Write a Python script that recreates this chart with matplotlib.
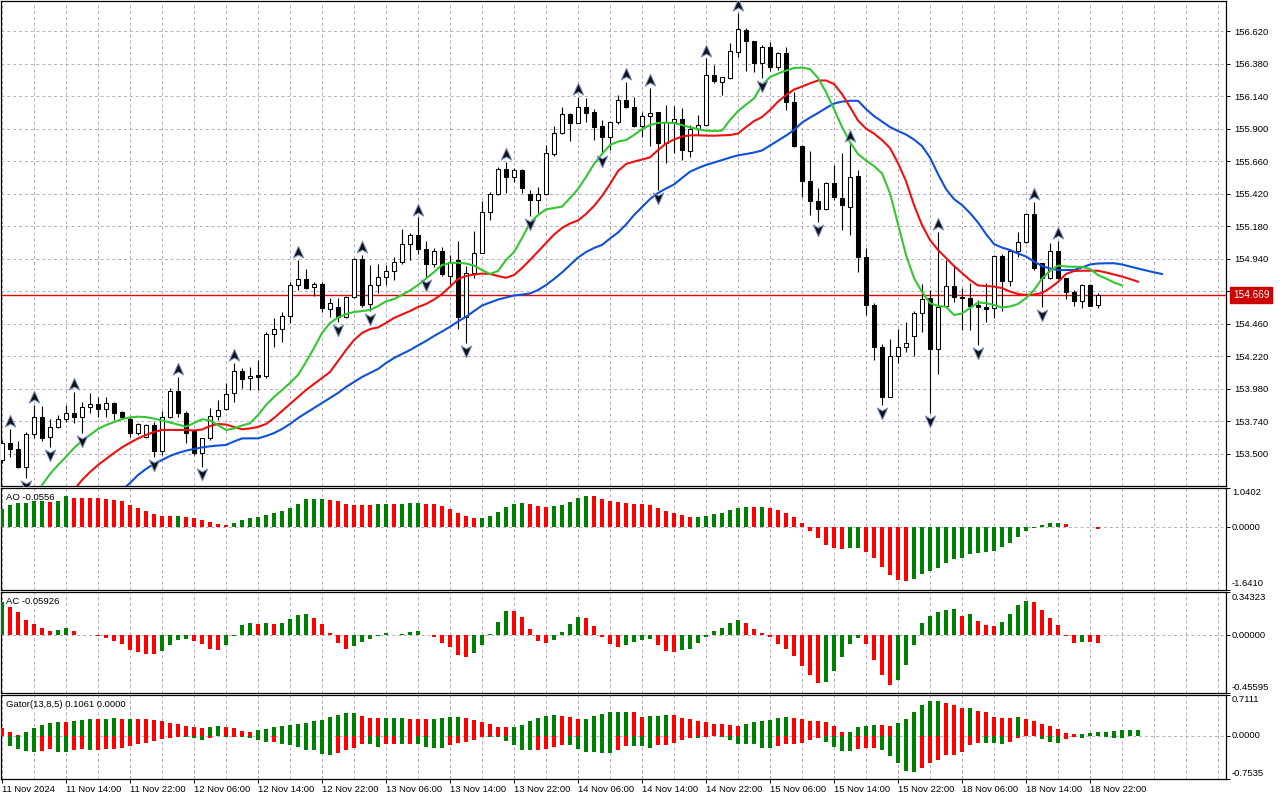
import numpy as np
import matplotlib
matplotlib.use("Agg")
import matplotlib.pyplot as plt
from matplotlib.path import Path
from matplotlib.ticker import FixedLocator, FormatStrFormatter

plt.rcParams['font.family'] = ['Liberation Sans', 'DejaVu Sans']

# ---------------------------------------------------------------- data
time_labels = ["11 Nov 2024", "11 Nov 14:00", "11 Nov 22:00", "12 Nov 06:00", "12 Nov 14:00",
               "12 Nov 22:00", "13 Nov 06:00", "13 Nov 14:00", "13 Nov 22:00", "14 Nov 06:00",
               "14 Nov 14:00", "14 Nov 22:00", "15 Nov 06:00", "15 Nov 14:00", "15 Nov 22:00",
               "18 Nov 06:00", "18 Nov 14:00", "18 Nov 22:00"]
label_bars = [0, 8, 16, 24, 32, 40, 48, 56, 64, 72, 80, 88, 96, 104, 112, 120, 128, 136]

opens = [153.452, 153.575, 153.531, 153.398, 153.642, 153.767, 153.620, 153.694, 153.757, 153.797,
         153.772, 153.846, 153.866, 153.827, 153.875, 153.807, 153.753, 153.649, 153.620, 153.708,
         153.521, 153.767, 153.959, 153.801, 153.669, 153.501, 153.612, 153.779, 153.827, 153.945,
         154.112, 154.055, 154.080, 154.072, 154.383, 154.419, 154.518, 154.742, 154.786, 154.727,
         154.749, 154.565, 154.584, 154.506, 154.658, 154.936, 154.604, 154.742, 154.803, 154.848,
         154.912, 155.045, 155.111, 155.008, 154.897, 154.995, 154.813, 154.929, 154.510, 154.835,
         154.983, 155.281, 155.414, 155.601, 155.544, 155.594, 155.416, 155.372, 155.416, 155.712,
         155.865, 156.005, 155.943, 156.057, 156.020, 155.919, 155.835, 155.946, 156.110, 156.057,
         155.921, 155.990, 156.020, 155.795, 155.950, 155.968, 155.736, 155.894, 155.924, 156.293,
         156.246, 156.271, 156.467, 156.627, 156.548, 156.386, 156.500, 156.356, 156.455, 156.098,
         155.773, 155.515, 155.367, 155.303, 155.495, 155.385, 155.323, 155.552, 154.949, 154.597,
         154.284, 153.920, 154.220, 154.289, 154.368, 154.535, 154.650, 154.269, 154.589, 154.737,
         154.658, 154.651, 154.594, 154.584, 154.572, 154.958, 154.776, 154.998, 155.060, 155.269,
         154.905, 154.798, 154.995, 154.794, 154.695, 154.628, 154.742, 154.597]
highs = [153.600, 153.680, 153.595, 153.659, 153.858, 153.850, 153.753, 153.784, 153.858, 153.956,
         153.883, 153.945, 153.920, 153.920, 153.878, 153.816, 153.772, 153.727, 153.718, 153.735,
         153.816, 153.982, 154.067, 153.816, 153.679, 153.612, 153.834, 153.895, 154.018, 154.166,
         154.129, 154.141, 154.190, 154.400, 154.498, 154.547, 154.769, 154.929, 154.860, 154.769,
         154.769, 154.646, 154.646, 154.665, 154.942, 154.966, 154.892, 154.897, 154.892, 154.953,
         155.160, 155.126, 155.244, 155.069, 155.015, 155.027, 154.966, 155.069, 154.885, 155.143,
         155.367, 155.433, 155.618, 155.653, 155.606, 155.600, 155.446, 155.470, 155.778, 155.919,
         156.057, 156.012, 156.135, 156.125, 156.042, 155.963, 155.958, 156.147, 156.246, 156.135,
         156.024, 156.201, 156.024, 156.074, 156.066, 156.049, 155.926, 156.000, 156.418, 156.369,
         156.278, 156.534, 156.751, 156.640, 156.550, 156.517, 156.541, 156.467, 156.504, 156.172,
         155.775, 155.736, 155.458, 155.507, 155.631, 155.717, 155.786, 155.594, 155.015, 154.609,
         154.309, 154.343, 154.417, 154.473, 154.555, 154.752, 154.707, 155.138, 154.929, 154.887,
         154.720, 154.757, 154.634, 154.757, 154.966, 154.973, 155.003, 155.134, 155.274, 155.360,
         154.908, 155.052, 155.069, 154.796, 154.707, 154.749, 154.749, 154.683]
lows = [153.430, 153.472, 153.390, 153.317, 153.612, 153.595, 153.550, 153.686, 153.735, 153.723,
        153.649, 153.801, 153.772, 153.767, 153.747, 153.753, 153.624, 153.637, 153.612, 153.472,
        153.489, 153.760, 153.767, 153.575, 153.489, 153.403, 153.600, 153.747, 153.821, 153.883,
        153.982, 153.969, 153.969, 154.055, 154.289, 154.326, 154.461, 154.707, 154.713, 154.665,
        154.547, 154.510, 154.473, 154.498, 154.646, 154.584, 154.552, 154.683, 154.744, 154.781,
        154.899, 154.929, 154.973, 154.800, 154.879, 154.810, 154.744, 154.417, 154.314, 154.794,
        154.978, 155.224, 155.409, 155.424, 155.507, 155.426, 155.254, 155.274, 155.409, 155.697,
        155.859, 155.810, 155.938, 155.950, 155.815, 155.717, 155.741, 155.933, 156.049, 155.913,
        155.835, 155.773, 155.446, 155.648, 155.717, 155.667, 155.692, 155.852, 155.919, 156.234,
        156.147, 156.266, 156.430, 156.327, 156.320, 156.271, 156.327, 156.332, 156.037, 155.761,
        155.392, 155.261, 155.212, 155.298, 155.372, 155.151, 155.114, 154.843, 154.523, 154.190,
        153.858, 153.915, 154.171, 154.252, 154.220, 154.399, 153.797, 154.087, 154.585, 154.621,
        154.412, 154.412, 154.301, 154.473, 154.498, 154.555, 154.737, 154.953, 155.052, 154.855,
        154.580, 154.789, 154.786, 154.639, 154.589, 154.572, 154.589, 154.572]
closes = [153.575, 153.531, 153.398, 153.642, 153.767, 153.612, 153.694, 153.757, 153.797, 153.772,
          153.846, 153.866, 153.827, 153.875, 153.801, 153.767, 153.649, 153.716, 153.708, 153.521,
          153.767, 153.964, 153.801, 153.649, 153.501, 153.612, 153.779, 153.821, 153.939, 154.109,
          154.050, 154.072, 154.067, 154.383, 154.419, 154.518, 154.742, 154.786, 154.724, 154.749,
          154.577, 154.614, 154.506, 154.658, 154.936, 154.597, 154.742, 154.803, 154.848, 154.912,
          155.045, 155.111, 155.008, 154.897, 154.995, 154.823, 154.917, 154.510, 154.835, 154.983,
          155.281, 155.414, 155.601, 155.544, 155.594, 155.458, 155.372, 155.416, 155.717, 155.865,
          156.005, 155.943, 156.057, 156.017, 155.913, 155.840, 155.946, 156.110, 156.057, 155.921,
          155.990, 156.017, 155.795, 155.950, 155.968, 155.741, 155.894, 155.924, 156.293, 156.253,
          156.278, 156.475, 156.633, 156.548, 156.386, 156.500, 156.356, 156.455, 156.098, 155.773,
          155.515, 155.367, 155.303, 155.495, 155.392, 155.335, 155.544, 154.949, 154.597, 154.284,
          153.920, 154.220, 154.289, 154.318, 154.535, 154.639, 154.269, 154.584, 154.737, 154.653,
          154.646, 154.592, 154.584, 154.567, 154.958, 154.776, 154.998, 155.064, 155.269, 154.868,
          154.798, 154.995, 154.794, 154.695, 154.628, 154.742, 154.589, 154.669]

# Alligator lines (already shifted forward), first bar index of each
lips_start = 5
lips = [153.267, 153.349, 153.415, 153.476, 153.541,
        153.593, 153.637, 153.681, 153.710, 153.732, 153.754, 153.767, 153.772, 153.769, 153.758,
        153.744, 153.729, 153.714, 153.698, 153.725, 153.753, 153.744, 153.710, 153.674, 153.685,
        153.707, 153.723, 153.784, 153.858, 153.917, 153.969, 154.021, 154.080, 154.176, 154.279,
        154.390, 154.464, 154.504, 154.530, 154.545, 154.552, 154.560, 154.589, 154.623, 154.641,
        154.671, 154.704, 154.744, 154.792, 154.840, 154.892, 154.907, 154.909, 154.903, 154.888,
        154.855, 154.826, 154.848, 154.929, 154.988, 155.091, 155.204, 155.261, 155.303, 155.313,
        155.323, 155.387, 155.453, 155.542, 155.638, 155.712, 155.778, 155.804, 155.815, 155.852,
        155.896, 155.926, 155.941, 155.943, 155.941, 155.926, 155.909, 155.896, 155.884, 155.882,
        155.885, 155.963, 156.029, 156.077, 156.123, 156.221, 156.280, 156.306, 156.328, 156.347,
        156.350, 156.339, 156.273, 156.170, 156.044, 155.911, 155.800, 155.712, 155.664, 155.623,
        155.569, 155.422, 155.195, 154.966, 154.796, 154.693, 154.611, 154.589, 154.584, 154.523,
        154.534, 154.574, 154.615, 154.611, 154.597, 154.578, 154.586, 154.604, 154.648, 154.707,
        154.792, 154.848, 154.888, 154.881, 154.879, 154.879, 154.863, 154.818, 154.792, 154.763,
        154.742]
teeth_start = 9
teeth = [153.231,
         153.304, 153.363, 153.415, 153.459, 153.504, 153.545, 153.580, 153.611, 153.637, 153.659,
         153.674, 153.674, 153.674, 153.674, 153.670, 153.677, 153.703, 153.718, 153.714, 153.696,
         153.679, 153.685, 153.696, 153.718, 153.762, 153.814, 153.866, 153.917, 153.969, 154.013,
         154.058, 154.102, 154.183, 154.264, 154.338, 154.390, 154.419, 154.431, 154.464, 154.501,
         154.527, 154.552, 154.582, 154.604, 154.637, 154.678, 154.732, 154.789, 154.811, 154.822,
         154.829, 154.826, 154.811, 154.798, 154.818, 154.870, 154.929, 154.992, 155.055, 155.117,
         155.165, 155.199, 155.221, 155.269, 155.328, 155.402, 155.490, 155.586, 155.638, 155.656,
         155.671, 155.687, 155.741, 155.789, 155.819, 155.841, 155.850, 155.850, 155.848, 155.847,
         155.850, 155.852, 155.863, 155.911, 155.955, 155.985, 156.037, 156.099, 156.147, 156.188,
         156.210, 156.234, 156.255, 156.255, 156.229, 156.155, 156.059, 155.959, 155.900, 155.863,
         155.815, 155.756, 155.645, 155.512, 155.335, 155.187, 155.077, 155.003, 154.944, 154.885,
         154.833, 154.781, 154.741, 154.737, 154.733, 154.722, 154.696, 154.678, 154.671, 154.674,
         154.685, 154.722, 154.767, 154.826, 154.848, 154.850, 154.850, 154.850, 154.837, 154.822,
         154.807, 154.789, 154.769]
jaw_start = 15
jaw = [153.231, 153.282, 153.341, 153.386, 153.423,
       153.452, 153.482, 153.504, 153.521, 153.533, 153.545, 153.553, 153.559, 153.563, 153.589,
       153.611, 153.612, 153.612, 153.629, 153.651, 153.681, 153.718, 153.762, 153.799, 153.836,
       153.873, 153.910, 153.947, 153.991, 154.028, 154.065, 154.095, 154.124, 154.168, 154.205,
       154.235, 154.264, 154.298, 154.331, 154.368, 154.401, 154.436, 154.475, 154.510, 154.552,
       154.593, 154.615, 154.637, 154.652, 154.667, 154.674, 154.682, 154.707, 154.744, 154.789,
       154.837, 154.892, 154.947, 154.988, 155.018, 155.040, 155.088, 155.132, 155.191, 155.261,
       155.320, 155.379, 155.424, 155.457, 155.487, 155.535, 155.581, 155.608, 155.631, 155.649,
       155.667, 155.686, 155.702, 155.712, 155.723, 155.738, 155.775, 155.811, 155.848, 155.889,
       155.944, 155.981, 156.015, 156.051, 156.085, 156.099, 156.105, 156.105, 156.044, 155.992,
       155.952, 155.911, 155.882, 155.856, 155.819, 155.771, 155.686, 155.564, 155.453, 155.379,
       155.335, 155.276, 155.206, 155.121, 155.047, 155.021, 155.003, 154.977, 154.955, 154.918,
       154.885, 154.866, 154.855, 154.855, 154.855, 154.874, 154.896, 154.903, 154.905, 154.905,
       154.896, 154.881, 154.866, 154.852, 154.838, 154.826]

up_fractals = [1, 4, 9, 22, 29, 37, 45, 52, 63, 72, 78, 81, 88, 92, 106, 117, 129, 132]
down_fractals = [3, 6, 10, 19, 25, 42, 46, 53, 58, 66, 75, 82, 95, 102, 110, 116, 122, 130]

ao = [0.482, 0.570, 0.640, 0.645, 0.675, 0.680, 0.670, 0.684, 0.806, 0.771,
      0.770, 0.768, 0.762, 0.745, 0.701, 0.675, 0.587, 0.508, 0.438, 0.351,
      0.298, 0.296, 0.300, 0.272, 0.245, 0.202, 0.149, 0.088, 0.070, 0.114,
      0.202, 0.254, 0.280, 0.324, 0.386, 0.438, 0.508, 0.613, 0.727, 0.745,
      0.749, 0.719, 0.675, 0.596, 0.594, 0.587, 0.570, 0.596, 0.598, 0.596,
      0.600, 0.625, 0.640, 0.613, 0.611, 0.561, 0.482, 0.377, 0.298, 0.245,
      0.247, 0.298, 0.403, 0.535, 0.613, 0.640, 0.596, 0.561, 0.535, 0.561,
      0.587, 0.666, 0.771, 0.824, 0.820, 0.745, 0.692, 0.666, 0.640, 0.613,
      0.610, 0.587, 0.508, 0.429, 0.377, 0.324, 0.272, 0.274, 0.298, 0.351,
      0.377, 0.456, 0.508, 0.535, 0.533, 0.537, 0.508, 0.456, 0.377, 0.272,
      0.114, -0.088, -0.280, -0.464, -0.543, -0.570, -0.540, -0.535, -0.649, -0.806,
      -1.034, -1.244, -1.385, -1.411, -1.358, -1.227, -1.139, -1.069, -0.947, -0.832,
      -0.806, -0.701, -0.675, -0.649, -0.622, -0.517, -0.412, -0.254, -0.088, -0.009,
      0.053, 0.105, 0.114, 0.079, 0.009, 0.015, 0.003, -0.0556]
ac = [0.261, 0.221, 0.186, 0.120, 0.088, 0.056, 0.032, 0.040, 0.056, 0.032,
      0.003, 0.005, -0.008, -0.024, -0.045, -0.072, -0.112, -0.133, -0.144, -0.145,
      -0.125, -0.077, -0.037, -0.027, -0.048, -0.072, -0.104, -0.112, -0.080, -0.003,
      0.080, 0.096, 0.088, 0.096, 0.088, 0.096, 0.128, 0.160, 0.168, 0.136,
      0.088, 0.016, -0.059, -0.104, -0.088, -0.051, -0.027, -0.003, 0.016, 0.001,
      0.008, 0.027, 0.032, 0.005, -0.011, -0.061, -0.093, -0.152, -0.173, -0.141,
      -0.077, 0.008, 0.104, 0.192, 0.190, 0.144, 0.048, -0.045, -0.061, -0.037,
      0.024, 0.088, 0.144, 0.136, 0.072, -0.013, -0.072, -0.093, -0.077, -0.053,
      -0.040, -0.027, -0.077, -0.125, -0.133, -0.117, -0.109, -0.061, -0.013, 0.032,
      0.056, 0.096, 0.120, 0.096, 0.048, 0.016, -0.013, -0.072, -0.104, -0.160,
      -0.240, -0.312, -0.376, -0.365, -0.285, -0.173, -0.067, -0.019, -0.067, -0.197,
      -0.317, -0.389, -0.357, -0.237, -0.077, 0.096, 0.152, 0.184, 0.200, 0.208,
      0.152, 0.168, 0.112, 0.080, 0.072, 0.104, 0.168, 0.240, 0.272, 0.264,
      0.200, 0.136, 0.080, -0.003, -0.061, -0.050, -0.055, -0.05926]
gator_upper = [0.129, 0.071, 0.010, 0.071, 0.129, 0.182, 0.218, 0.235, 0.233, 0.253,
               0.271, 0.288, 0.286, 0.290, 0.306, 0.288, 0.300, 0.288, 0.285, 0.271,
               0.253, 0.218, 0.200, 0.165, 0.147, 0.129, 0.147, 0.165, 0.160, 0.129,
               0.076, 0.074, 0.094, 0.112, 0.147, 0.165, 0.182, 0.200, 0.218, 0.253,
               0.271, 0.324, 0.359, 0.394, 0.396, 0.347, 0.306, 0.304, 0.307, 0.309,
               0.311, 0.300, 0.290, 0.286, 0.290, 0.306, 0.324, 0.326, 0.306, 0.271,
               0.235, 0.200, 0.147, 0.145, 0.148, 0.182, 0.253, 0.306, 0.341, 0.359,
               0.341, 0.324, 0.288, 0.290, 0.341, 0.376, 0.412, 0.414, 0.416, 0.410,
               0.335, 0.341, 0.343, 0.359, 0.355, 0.306, 0.288, 0.253, 0.235, 0.200,
               0.198, 0.182, 0.165, 0.200, 0.235, 0.253, 0.271, 0.306, 0.324, 0.306,
               0.288, 0.253, 0.250, 0.235, 0.165, 0.059, 0.062, 0.147, 0.165, 0.182,
               0.180, 0.178, 0.218, 0.288, 0.412, 0.535, 0.606, 0.608, 0.571, 0.535,
               0.482, 0.485, 0.429, 0.412, 0.324, 0.306, 0.304, 0.324, 0.288, 0.253,
               0.200, 0.165, 0.112, 0.041, 0.024, 0.035, 0.053, 0.059, 0.065, 0.076,
               0.100, 0.104, 0.1061]
gator_lower = [0.000, -0.182, -0.224, -0.271, -0.288, -0.271, -0.235, -0.282, -0.290, -0.241,
               -0.238, -0.253, -0.250, -0.224, -0.222, -0.206, -0.182, -0.147, -0.129, -0.094,
               -0.059, -0.041, -0.018, -0.029, -0.047, -0.076, -0.047, -0.012, -0.029, -0.018,
               -0.024, -0.035, -0.082, -0.112, -0.110, -0.135, -0.153, -0.200, -0.253, -0.255,
               -0.324, -0.341, -0.306, -0.253, -0.218, -0.147, -0.150, -0.188, -0.147, -0.145,
               -0.148, -0.146, -0.149, -0.188, -0.206, -0.208, -0.165, -0.129, -0.112, -0.076,
               -0.018, -0.020, -0.022, -0.094, -0.165, -0.253, -0.255, -0.250, -0.235, -0.188,
               -0.165, -0.168, -0.235, -0.288, -0.290, -0.292, -0.306, -0.253, -0.176, -0.182,
               -0.185, -0.218, -0.165, -0.163, -0.129, -0.076, -0.041, -0.043, -0.018, -0.006,
               -0.024, -0.076, -0.147, -0.149, -0.151, -0.218, -0.220, -0.182, -0.147, -0.145,
               -0.129, -0.076, -0.041, -0.112, -0.200, -0.271, -0.273, -0.235, -0.218, -0.216,
               -0.253, -0.359, -0.482, -0.606, -0.624, -0.553, -0.482, -0.429, -0.341, -0.338,
               -0.288, -0.165, -0.129, -0.131, -0.133, -0.135, -0.112, -0.041, -0.006, -0.004,
               -0.059, -0.112, -0.129, -0.053, -0.024, -0.041, -0.005, -0.003, -0.029, -0.041,
               -0.047, 0.000, 0.000]

price_ticks = [156.620, 156.380, 156.140, 155.900, 155.660, 155.420, 155.180, 154.940,
               154.700, 154.460, 154.220, 153.980, 153.740, 153.500]
last_price = 154.669
main_ylim = (153.260, 156.842)
ao_ylim = (-1.6410, 1.0402)
ac_ylim = (-0.45595, 0.34323)
gator_ylim = (-0.7535, 0.7111)

# ---------------------------------------------------------------- style
W, H = 1280, 800
FS = 6.8
GREEN, RED = '#008000', '#ff0000'
GRID = dict(color='#b4acbc', linestyle=(0, (3, 3)), linewidth=0.7)

fig = plt.figure(figsize=(W / 100, H / 100), dpi=100)
fig.patch.set_facecolor('white')


def panel(top, bottom):
    return fig.add_axes([1 / W, 1 - bottom / H, 1225 / W, (bottom - top) / H])


ax_main = panel(1, 486)
ax_ao = panel(487.5, 590)
ax_ac = panel(592, 693)
ax_gt = panel(695, 779)
axes = [ax_main, ax_ao, ax_ac, ax_gt]

grid_bars = np.arange(0, 153, 4)
for ax in axes:
    ax.set_xlim(-0.125, 153.0)
    for s in ax.spines.values():
        s.set_color('black')
        s.set_linewidth(0.9)
    ax.set_axisbelow(True)
    ax.xaxis.set_minor_locator(FixedLocator(grid_bars))
    ax.xaxis.remove_overlapping_locs = False
    ax.grid(True, which='minor', axis='x', **GRID)
    ax.tick_params(axis='x', which='minor', length=0)
    ax.yaxis.tick_right()
    ax.tick_params(axis='y', which='major', direction='out', length=3, width=0.7,
                   labelsize=FS, pad=3, colors='black')
    if ax is not ax_gt:
        ax.set_xticks([])

# ---------------------------------------------------------------- main chart
o = np.array(opens); h = np.array(highs); l = np.array(lows); c = np.array(closes)
x = np.arange(len(o))
ax_main.set_ylim(*main_ylim)
ax_main.set_yticks(price_ticks)
ax_main.yaxis.set_major_formatter(FormatStrFormatter('%.3f'))
ax_main.grid(True, which='major', axis='y', **GRID)

ax_main.axhline(last_price, color='#e60000', linewidth=1.0, zorder=2)
ax_main.vlines(x, l, h, color='black', linewidth=0.8, zorder=3)
bull = c >= o
ax_main.bar(x, np.maximum(np.abs(c - o), 0.003), bottom=np.minimum(o, c), width=0.52,
            color=np.where(bull, 'white', 'black'), edgecolor='black', linewidth=0.75, zorder=4)

ax_main.plot(np.arange(jaw_start, jaw_start + len(jaw)), jaw, color='#1050d8', linewidth=1.5, zorder=5)
ax_main.plot(np.arange(teeth_start, teeth_start + len(teeth)), teeth, color='#ee1010', linewidth=1.5, zorder=5)
ax_main.plot(np.arange(lips_start, lips_start + len(lips)), lips, color='#33c633', linewidth=1.5, zorder=5)

verts = [(0, 1), (0.85, -0.9), (0, -0.4), (-0.85, -0.9), (0, 1)]
codes = [Path.MOVETO, Path.LINETO, Path.LINETO, Path.LINETO, Path.CLOSEPOLY]
up_marker = Path(verts, codes)
down_marker = Path([(vx, -vy) for vx, vy in verts], codes)
fr_off = 0.058
uf = np.array(up_fractals); df = np.array(down_fractals)
ax_main.plot(uf, h[uf] + fr_off, linestyle='none', marker=up_marker, markersize=9,
             markerfacecolor='#101016', markeredgecolor='#7a94c8', markeredgewidth=0.7, zorder=6)
ax_main.plot(df, l[df] - fr_off, linestyle='none', marker=down_marker, markersize=9,
             markerfacecolor='#101016', markeredgecolor='#7a94c8', markeredgewidth=0.7, zorder=6)

ax_main.annotate(f"{last_price:.3f}", xy=(1, last_price), xycoords=('axes fraction', 'data'),
                 xytext=(7, 0), textcoords='offset pixels', va='center', ha='left',
                 color='white', fontsize=FS + 0.4,
                 bbox=dict(boxstyle='square,pad=0.28', fc='#cc0000', ec='#cc0000'),
                 annotation_clip=False, zorder=10)


# ---------------------------------------------------------------- sub panels
def rise_colors(vals, first, use_abs=False):
    v = np.abs(vals) if use_abs else np.asarray(vals)
    cols = [first]
    for i in range(1, len(v)):
        cols.append(GREEN if v[i] > v[i - 1] else RED)
    return cols


def finish_panel(ax, ylim, labels, title):
    ax.set_ylim(*ylim)
    ax.axhline(0, zorder=1, **GRID)
    ax.set_yticks([ylim[0], 0, ylim[1]])
    ax.set_yticklabels([])
    ax.annotate(labels[0], xy=(1, ylim[1]), xycoords=('axes fraction', 'data'), xytext=(6, -5),
                textcoords='offset pixels', va='center', ha='left', fontsize=FS, annotation_clip=False)
    ax.annotate(labels[1], xy=(1, 0), xycoords=('axes fraction', 'data'), xytext=(6, 0),
                textcoords='offset pixels', va='center', ha='left', fontsize=FS, annotation_clip=False)
    ax.annotate(labels[2], xy=(1, ylim[0]), xycoords=('axes fraction', 'data'), xytext=(6, 6),
                textcoords='offset pixels', va='center', ha='left', fontsize=FS, annotation_clip=False)
    ax.annotate(title, xy=(0, 1), xycoords='axes fraction', xytext=(5, -9.5),
                textcoords='offset pixels', va='center', ha='left', fontsize=FS)


BW = 0.6
ax_ao.bar(np.arange(len(ao)), ao, width=BW, color=rise_colors(ao, GREEN), zorder=3)
finish_panel(ax_ao, ao_ylim, ["1.0402", "0.0000", "-1.6410"], f"AO {ao[-1]:.4f}")

ax_ac.bar(np.arange(len(ac)), ac, width=BW, color=rise_colors(ac, GREEN), zorder=3)
finish_panel(ax_ac, ac_ylim, ["0.34323", "0.00000", "-0.45595"], f"AC {ac[-1]:.5f}")

gx = np.arange(len(gator_upper))
ax_gt.bar(gx, gator_upper, width=BW, color=rise_colors(gator_upper, RED, True), zorder=3)
ax_gt.bar(gx, gator_lower, width=BW, color=rise_colors(gator_lower, GREEN, True), zorder=3)
finish_panel(ax_gt, gator_ylim, ["0.7111", "0.0000", "-0.7535"],
             f"Gator(13,8,5) {gator_upper[-1]:.4f} {abs(gator_lower[-1]):.4f}")

ax_gt.set_xticks(label_bars)
ax_gt.set_xticklabels(time_labels, ha='left', fontsize=FS)
ax_gt.tick_params(axis='x', which='major', direction='out', length=3, width=0.7, pad=1.5)
ax_gt.grid(True, which='major', axis='x', **GRID)

fig.savefig("out.png", dpi=100, facecolor='white')
